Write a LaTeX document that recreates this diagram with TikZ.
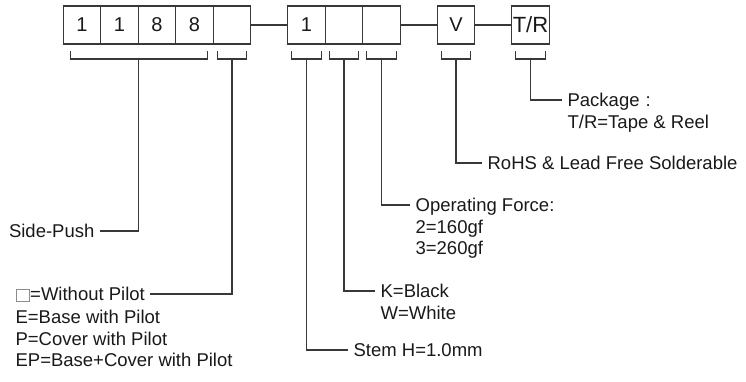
\documentclass[tikz,border=0pt]{standalone}
\usepackage{fontspec}
\setmainfont{Liberation Sans}
\usetikzlibrary{positioning}
\newcommand\emptysq{{\color{black!45}\setlength\fboxsep{0pt}\setlength\fboxrule{0.8pt}\fbox{\rule{0pt}{11pt}\hspace{13pt}}}}

\begin{document}
\begin{tikzpicture}[x=1pt, y=-1pt, line width=1.2pt, color=black!78, every node/.style={font=\fontsize{18.5}{22}\selectfont, text=black!90}, cell/.style={draw, minimum width=37.5pt, minimum height=38pt, inner sep=0pt, outer sep=0pt, font=\fontsize{20}{24}\selectfont}, lbl/.style={inner xsep=5pt, inner ysep=0pt, text height=13pt, text depth=0pt}]
\useasboundingbox (0,0) rectangle (746,381);
% part number boxes
\node[cell] (d1) at (82,25) {1};
\node[cell, right=0pt of d1] (d2) {1};
\node[cell, right=0pt of d2] (d3) {8};
\node[cell, right=0pt of d3] (d4) {8};
\node[cell, right=0pt of d4] (pil) {};
\node[cell, right=37pt of pil] (stm) {1};
\node[cell, right=0pt of stm] (col) {};
\node[cell, right=0pt of col] (frc) {};
\node[cell, right=37pt of frc] (rhs) {V};
\node[cell, right=37pt of rhs, font=\fontsize{22}{24}\selectfont] (pkg) {T/R};
\draw (pil)--(stm); \draw (frc)--(rhs); \draw (rhs)--(pkg);
% brackets under the boxes
\draw ([xshift=7pt,yshift=-7pt]d1.south west) -- ++(0,8) -- ([xshift=-6pt,yshift=-15pt]d4.south east) -- ++(0,-8);
\foreach \n in {pil,stm,col,frc,rhs,pkg}
  \draw ([xshift=4pt,yshift=-7pt]\n.south west) -- ++(0,8) -- ([xshift=-4pt,yshift=-15pt]\n.south east) -- ++(0,-8);
\coordinate (sp) at (138.5,59);
% labels
\node[lbl, anchor=base east] (side) at (100,237.5) {Side-Push};
\node[lbl, anchor=base west] (pil1) at (10,300.5) {\emptysq=Without Pilot};
\node[lbl, anchor=base west] (pil2) at (10,323.5) {E=Base with Pilot};
\node[lbl, anchor=base west] (pil3) at (10,345.5) {P=Cover with Pilot};
\node[lbl, anchor=base west] (pil4) at (10,366.5) {EP=Base+Cover with Pilot};
\node[lbl, anchor=base west] (stm1) at (348,356.5) {Stem H=1.0mm};
\node[lbl, anchor=base west] (col1) at (375,297.5) {K=Black};
\node[lbl, anchor=base west] (col2) at (375,319.5) {W=White};
\node[lbl, anchor=base west] (frc1) at (410,211.5) {Operating Force:};
\node[lbl, anchor=base west] (frc2) at (410,233.5) {2=160gf};
\node[lbl, anchor=base west] (frc3) at (410,254.5) {3=260gf};
\node[lbl, anchor=base west] (rhs1) at (482,169.5) {RoHS \& Lead Free Solderable};
\node[lbl, anchor=base west] (pkg1) at (562,106.5) {Package\hspace{6pt}:};
\node[lbl, anchor=base west] (pkg2) at (562,128.5) {T/R=Tape \& Reel};
\draw (sp) |- (side.east);
\draw ([yshift=-15pt]pil.south) |- (pil1.east);
\draw ([yshift=-15pt]stm.south) |- (stm1.west);
\draw ([yshift=-15pt]col.south) |- (col1.west);
\draw ([yshift=-15pt]frc.south) |- (frc1.west);
\draw ([yshift=-15pt]rhs.south) |- (rhs1.west);
\draw ([yshift=-15pt]pkg.south) |- (pkg1.west);
\end{tikzpicture}
\end{document}
